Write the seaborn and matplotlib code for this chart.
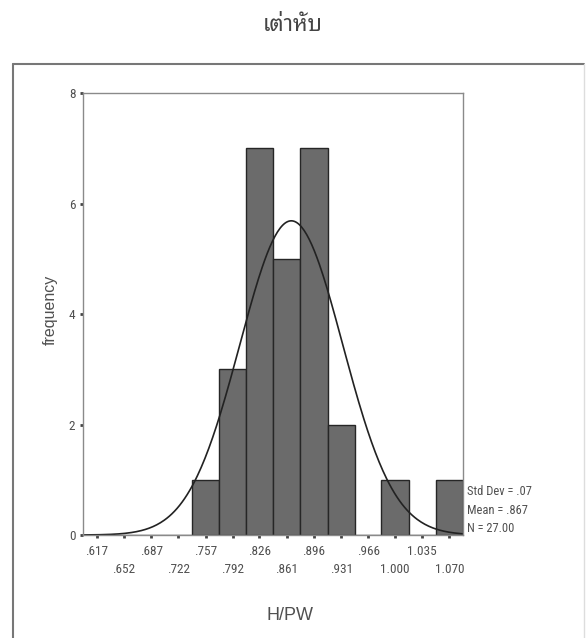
import numpy as np
import pandas as pd
import matplotlib
matplotlib.use("Agg")
import matplotlib.pyplot as plt
import seaborn as sns
from matplotlib import font_manager as fm

# Histogram values
bin_centers = [0.617, 0.652, 0.687, 0.722, 0.757, 0.792, 0.826, 0.861,
               0.896, 0.931, 0.966, 1.000, 1.035, 1.070]
tick_labels = [".617", ".652", ".687", ".722", ".757", ".792", ".826", ".861",
               ".896", ".931", ".966", "1.000", "1.035", "1.070"]
counts = [0, 0, 0, 0, 1, 3, 7, 5, 7, 2, 0, 1, 0, 1]
bin_width = (1.070 - 0.617) / 13
mean_val = 0.867
sd_fit = 0.066          # unrounded sd (label shows .07)
n_total = 27
stats_text = "Std Dev = .07\nMean = .867\nN = 27.00"

title_text = "เต่าหับ"
x_label = "H/PW"
y_label = "frequency"

available = {f.name for f in fm.fontManager.ttflist}
def pick(cands, default="DejaVu Sans"):
    for c in cands:
        if c in available:
            return c
    return default

thai_font = pick(["Noto Sans Thai Looped", "Noto Sans Thai", "Sarabun", "Athiti"])
narrow_font = pick(["Liberation Sans Narrow", "Arial Narrow", "Roboto Condensed", "Open Sans Condensed"])

sns.set_theme(style="white")
plt.rcParams["font.family"] = ["Liberation Sans", "DejaVu Sans"]

df = pd.DataFrame({"x": bin_centers, "count": counts})
edges = np.append(np.array(bin_centers) - bin_width / 2, bin_centers[-1] + bin_width / 2)

fig = plt.figure(figsize=(5.86, 6.38), dpi=100)
ax = fig.add_axes([0.1416, 0.1614, 0.6485, 0.6928])

sns.histplot(data=df, x="x", weights="count", bins=edges.tolist(), stat="count",
             color="#6b6b6b", edgecolor="#262626", linewidth=1.0, alpha=1.0, ax=ax)

# fitted normal curve
xs = np.linspace(edges[0], edges[-1], 300)
ys = n_total * bin_width / (sd_fit * np.sqrt(2 * np.pi)) * np.exp(-0.5 * ((xs - mean_val) / sd_fit) ** 2)
sns.lineplot(x=xs, y=ys, color="#222222", linewidth=1.2, ax=ax)

ax.set_xlim(edges[0], edges[-1])
ax.set_ylim(0, 8)
ax.set_yticks([0, 2, 4, 6, 8])
ax.set_yticklabels(["0", "2", "4", "6", "8"], fontsize=9.5, color="#505050", family=narrow_font)
ax.set_xticks(bin_centers)
ax.set_xticklabels([("\n" + t) if i % 2 else t for i, t in enumerate(tick_labels)],
                   fontsize=9.5, color="#505050", family=narrow_font, linespacing=1.45)
ax.tick_params(axis="both", length=2.5, width=2.0, color="#444444", pad=3, direction="out",
               bottom=True, left=True)
ax.tick_params(axis="x", pad=5)
for s in ax.spines.values():
    s.set_color("#8a8a8a")
    s.set_linewidth(1.0)
ax.set_xlabel("")
ax.set_ylabel("")

ax.text(1.01, 0.0, stats_text, transform=ax.transAxes, fontsize=9, color="#505050",
        family=narrow_font, va="bottom", ha="left", linespacing=1.55)

fig.text(0.086, 0.515, y_label, rotation=90, fontsize=11.5, color="#505050", ha="center", va="center")
fig.text(0.495, 0.036, x_label, fontsize=13, color="#505050", ha="center", va="center")
fig.text(0.5, 0.96, title_text, fontsize=16, color="#444444", ha="center", va="center",
         family=[thai_font, "DejaVu Sans"])

# outer frame (cut off at right and bottom)
fig.add_artist(plt.Line2D([0.022, 0.022], [0.0, 0.9], transform=fig.transFigure, color="#777777", lw=1.5))
fig.add_artist(plt.Line2D([0.022, 0.997], [0.9, 0.9], transform=fig.transFigure, color="#777777", lw=1.5))
fig.add_artist(plt.Line2D([0.997, 0.997], [0.0, 0.9], transform=fig.transFigure, color="#dddddd", lw=1.0))

fig.savefig("out.png", dpi=100)
